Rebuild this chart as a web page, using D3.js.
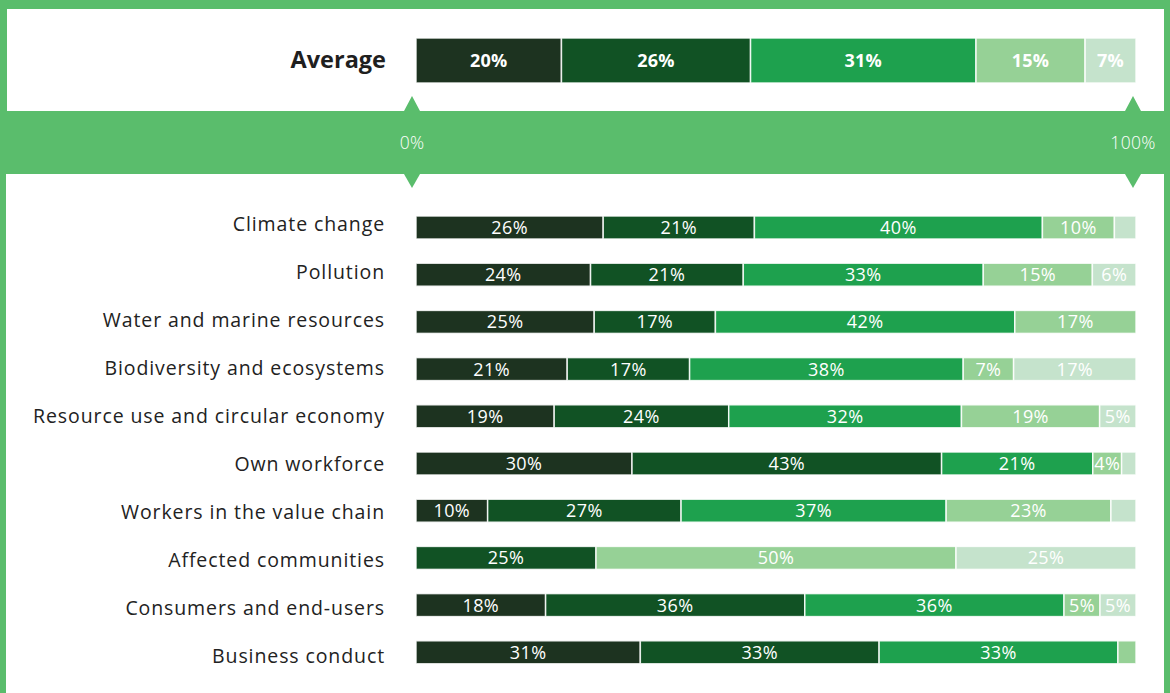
<!DOCTYPE html>
<html>
<head>
<meta charset="utf-8">
<script src="https://cdn.jsdelivr.net/npm/d3@7"></script>
<style>
  html, body { margin: 0; padding: 0; background: #ffffff; }
  svg { display: block; }
  text { font-family: "Open Sans", "Noto Sans", sans-serif; }
</style>
</head>
<body>
<svg id="chart" width="1170" height="693"></svg>
<script>
// Topics shown as rows
const categories = [
  "Climate change",
  "Pollution",
  "Water and marine resources",
  "Biodiversity and ecosystems",
  "Resource use and circular economy",
  "Own workforce",
  "Workers in the value chain",
  "Affected communities",
  "Consumers and end-users",
  "Business conduct"
];

// Shares per response level (darkest to lightest), one value per topic
const series1 = [26, 24, 25, 21, 19, 30, 10, 0, 18, 31];
const series2 = [21, 21, 17, 17, 24, 43, 27, 25, 36, 33];
const series3 = [40, 33, 42, 38, 32, 21, 37, 0, 36, 33];
const series4 = [10, 15, 17, 7, 19, 4, 23, 50, 5, 2.5];
const series5 = [3, 6, 0, 17, 5, 2, 3.5, 25, 5, 0];

// Overall average row
const averageLabel = "Average";
const averageValues = [20, 26, 31, 15, 7];

// Scale end labels
const tickValues = [0, 1];
const tickLabels = ["0%", "100%"];

const seriesKeys = ["s1", "s2", "s3", "s4", "s5"];
const seriesColors = ["#1d3320", "#115224", "#1ea14e", "#96d196", "#c5e3cc"];

const W = 1170, H = 693;
const frameGreen = "#5abd6c";
const svg = d3.select("#chart");

// Frame and background
svg.append("rect").attr("width", W).attr("height", H).attr("fill", "#ffffff");
svg.append("rect").attr("x", 0).attr("y", 0).attr("width", W).attr("height", 9).attr("fill", frameGreen);
svg.append("rect").attr("x", 0).attr("y", 0).attr("width", 7).attr("height", 111).attr("fill", frameGreen);
svg.append("rect").attr("x", 0).attr("y", 111).attr("width", 6).attr("height", H - 111).attr("fill", frameGreen);
svg.append("rect").attr("x", 1164).attr("y", 0).attr("width", 6).attr("height", H).attr("fill", frameGreen);

// Horizontal scale shared by every bar
const x = d3.scaleLinear().domain([0, 1]).range([416, 1136]);
const color = d3.scaleOrdinal().domain(seriesKeys).range(seriesColors);

// Build normalised stacks
const rows = categories.map((c, i) => ({
  category: c,
  s1: series1[i], s2: series2[i], s3: series3[i], s4: series4[i], s5: series5[i]
}));
const stack = d3.stack().keys(seriesKeys).offset(d3.stackOffsetExpand);

function drawBar(g, row, yCenter, h, bold) {
  const layers = stack([row]);
  const segs = layers.map(l => ({ key: l.key, v0: l[0][0], v1: l[0][1], value: row[l.key] }))
    .filter(s => s.value > 0);
  g.selectAll("rect.seg")
    .data(segs)
    .join("rect")
    .attr("class", "seg")
    .attr("x", d => x(d.v0))
    .attr("y", yCenter - h / 2)
    .attr("width", d => x(d.v1) - x(d.v0))
    .attr("height", h)
    .attr("fill", d => color(d.key))
    .attr("stroke", "#ffffff")
    .attr("stroke-opacity", 0.85)
    .attr("stroke-width", 1.5);
  g.selectAll("text.val")
    .data(segs.filter(s => s.value >= 4))
    .join("text")
    .attr("class", "val")
    .attr("x", d => (x(d.v0) + x(d.v1)) / 2)
    .attr("y", yCenter)
    .attr("dy", "0.36em")
    .attr("text-anchor", "middle")
    .attr("fill", "#ffffff")
    .attr("font-size", 18)
    .attr("letter-spacing", bold ? 0.3 : 0.4)
    .attr("font-weight", bold ? 700 : 400)
    .text(d => d.value + "%");
}

// Average row
const avgRow = { category: averageLabel };
seriesKeys.forEach((k, i) => avgRow[k] = averageValues[i]);
const avgY = 60.5;
svg.append("text")
  .attr("x", 386).attr("y", avgY - 1).attr("dy", "0.36em")
  .attr("text-anchor", "end")
  .attr("font-size", 23.5).attr("font-weight", 700)
  .attr("fill", "#1f1f1f")
  .text(averageLabel);
drawBar(svg.append("g"), avgRow, avgY, 45, true);

// Band with 0% / 100% markers
svg.append("rect").attr("x", 0).attr("y", 111).attr("width", W).attr("height", 63).attr("fill", frameGreen);
const markerOffsets = [-4, -3];
const markers = svg.append("g");
tickValues.forEach((v, i) => {
  const cx = x(v) + markerOffsets[i];
  markers.append("path")
    .attr("d", `M${cx - 8},111 L${cx},96 L${cx + 8},111 Z`)
    .attr("fill", frameGreen);
  markers.append("path")
    .attr("d", `M${cx - 8},174 L${cx},188 L${cx + 8},174 Z`)
    .attr("fill", frameGreen);
  markers.append("text")
    .attr("x", cx).attr("y", 143).attr("dy", "0.36em")
    .attr("text-anchor", "middle")
    .attr("font-size", 17.5)
    .attr("font-weight", 300)
    .attr("letter-spacing", 0.3)
    .attr("fill", "#ffffff")
    .text(tickLabels[i]);
});

// Topic rows: bars and their labels sit on slightly different grids
const y = d3.scalePoint().domain(categories).range([203.9, 675.9]).padding(0.5);
const yLabel = d3.scalePoint().domain(categories).range([200, 680]).padding(0.5);
const rowG = svg.append("g");
rows.forEach(r => {
  const g = rowG.append("g");
  g.append("text")
    .attr("x", 385).attr("y", yLabel(r.category)).attr("dy", "0.36em")
    .attr("text-anchor", "end")
    .attr("font-size", 19.5)
    .attr("letter-spacing", 0.9)
    .attr("fill", "#222222")
    .text(r.category);
  drawBar(g, r, y(r.category), 23, false);
});
</script>
</body>
</html>
